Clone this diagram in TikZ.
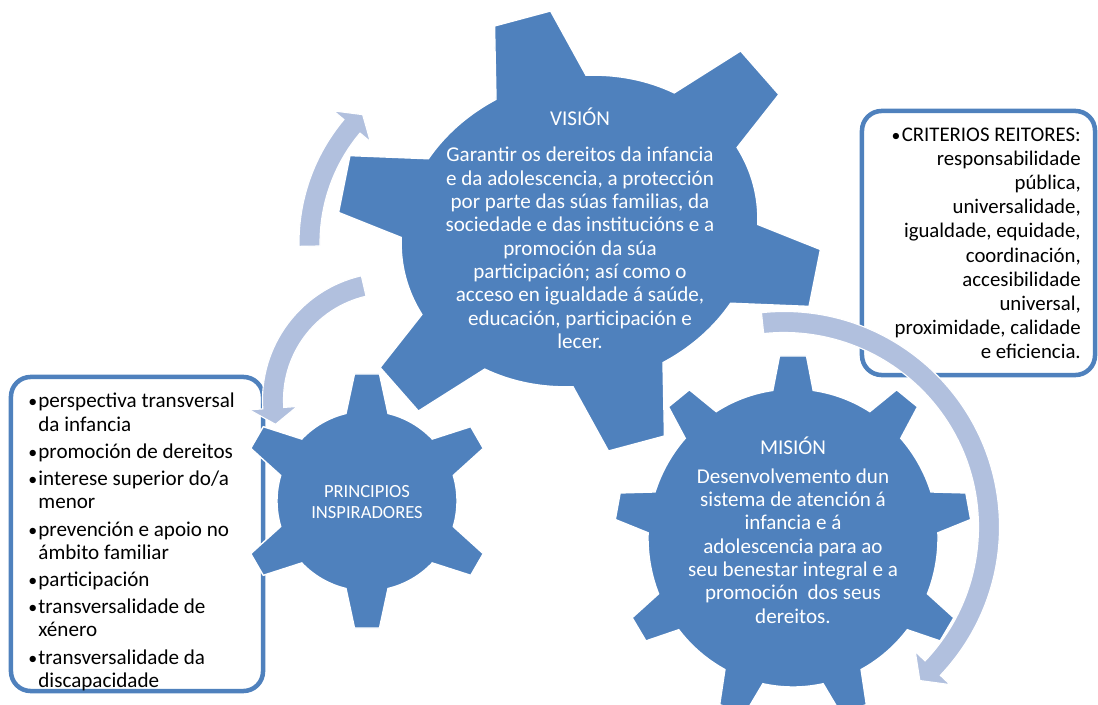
\documentclass[tikz,border=0pt]{standalone}
\usepackage{fontspec}
\setmainfont{Carlito}
\usetikzlibrary{calc,positioning}
\definecolor{gB}{HTML}{4F81BD}
\definecolor{aB}{HTML}{B1C0DE}
\tikzset{
  gearfill/.style={fill=gB,draw=white,line width=1pt},
  bentarrow/.style={fill=aB,draw=white,line width=0.8pt},
  framebox/.style={draw=gB,line width=3.2pt,rounded corners=14pt,fill=white,inner sep=0pt},
  geartext/.style={text=white,align=center,inner sep=0pt},
  listtext/.style={inner sep=0pt,font=\fontsize{15}{16.6}\selectfont},
}
\newcommand{\dotmark}{\makebox[7.2pt][l]{\scalebox{0.85}{\textbullet}}}
% #1 teeth, #2 x radius, #3 y radius of the body, #4 tooth height,
% #5 half width of the tip, #6 half angle of the tooth root
\newcommand{\gearwheel}[6]{%
  \foreach \k in {1,...,#1}{
    \pgfmathsetmacro{\ga}{90+(\k-1)*360/#1}
    \coordinate (gb\k) at (\ga:#2 and #3);
    \coordinate (gt\k) at ($(gb\k)!-#4!(0,0)$);
    \coordinate (gl\k) at ({\ga-#6}:#2 and #3);
    \coordinate (gr\k) at ({\ga+#6}:#2 and #3);
    \coordinate (gp\k) at ($(gt\k)!#5!90:(0,0)$);
    \coordinate (gq\k) at ($(gt\k)!#5!-90:(0,0)$);
  }
  \filldraw[gearfill] (gl1)
    \foreach \k in {1,...,#1}{
      -- (gl\k) -- (gp\k) -- (gq\k) -- (gr\k)
      arc[start angle={90+(\k-1)*360/#1+#6},end angle={90+\k*360/#1-#6},
          x radius=#2,y radius=#3]
    } -- cycle;}
% #1 centre, #2 mid radius, #3 tail angle, #4 head angle, #5 tip angle
\newcommand{\turnarrow}[5]{%
  \filldraw[bentarrow,shift={#1}] ({#3}:{#2+10.5})
    arc[start angle=#3,end angle=#4,radius={#2+10.5}]
    -- ({#4}:{#2+24}) -- ({#5}:#2) -- ({#4}:{#2-24}) -- ({#4}:{#2-10.5})
    arc[start angle=#4,end angle=#3,radius={#2-10.5}] -- cycle;}

\begin{document}
\begin{tikzpicture}[x=0.025cm,y=0.025cm]
  \useasboundingbox (0,0) rectangle (1098,704);
  \coordinate (visC) at (579.5,473);
  \coordinate (misC) at (793,166);
  \coordinate (priC) at (367,203);

  % side frames
  \node[framebox,minimum width=6.3cm,minimum height=7.85cm] (prinbox) at (137,170) {};
  \node[framebox,minimum width=5.825cm,minimum height=6.6cm] (critbox) at (978.5,461) {};
  \node[listtext,align=left,anchor=north west] (prinlist) at (28,311) {%
    \dotmark perspectiva transversal\\
    \hspace*{7.2pt}da infancia\\[2.7pt]
    \dotmark promoción de dereitos\\[2.7pt]
    \dotmark interese superior do/a\\
    \hspace*{7.2pt}menor\\[2.7pt]
    \dotmark prevención e apoio no\\
    \hspace*{7.2pt}ámbito familiar\\[2.7pt]
    \dotmark participación\\[2.7pt]
    \dotmark transversalidade de\\
    \hspace*{7.2pt}xénero\\[2.7pt]
    \dotmark transversalidade da\\
    \hspace*{7.2pt}discapacidade};
  \node[listtext,align=right,anchor=north east,font=\fontsize{14.8}{17.1}\selectfont]
    (critlist) at (1081,576) {%
    \dotmark CRITERIOS REITORES:\\
    responsabilidade\\ pública,\\ universalidade,\\ igualdade, equidade,\\
    coordinación,\\ accesibilidade\\ universal,\\ proximidade, calidade\\
    e eficiencia.};

  % gears
  \begin{scope}[shift={(visC)},rotate=15]
    \gearwheel{6}{180}{154}{1.65cm}{0.725cm}{15}
  \end{scope}
  \begin{scope}[shift={(misC)}]
    \gearwheel{9}{145}{149}{0.825cm}{0.3375cm}{8}
  \end{scope}
  \begin{scope}[shift={(priC)}]
    \gearwheel{6}{90}{90}{0.925cm}{0.3125cm}{13.5}
  \end{scope}

  % arrows
  \turnarrow{(784,177)}{205}{96}{-43.5}{-48.5}
  \turnarrow{(491,461)}{181.5}{181}{140}{135}
  \turnarrow{(390,304)}{117}{103}{184}{192}

  % gear texts
  \node[geartext,anchor=north,font=\fontsize{15}{16.6}\selectfont] (vision) at (580,596) {%
    VISIÓN\\[9pt]
    Garantir os dereitos da infancia\\
    e da adolescencia, a protección\\
    por parte das súas familias, da\\
    sociedade e das institucións e a\\
    promoción da súa\\
    participación; así como o\\
    acceso en igualdade á saúde,\\
    educación, participación e\\
    lecer.};
  \node[geartext,anchor=north,font=\fontsize{15}{16.6}\selectfont] (mision) at (793,267) {%
    MISIÓN\\[3.4pt]
    Desenvolvemento dun\\
    sistema de atención á\\
    infancia e á\\
    adolescencia para ao\\
    seu benestar integral e a\\
    promoción\ \ dos seus\\
    dereitos.};
  \node[geartext,anchor=north,font=\fontsize{13.2}{14.9}\selectfont] (principios) at (367,219) {%
    PRINCIPIOS\\ INSPIRADORES};
\end{tikzpicture}
\end{document}
